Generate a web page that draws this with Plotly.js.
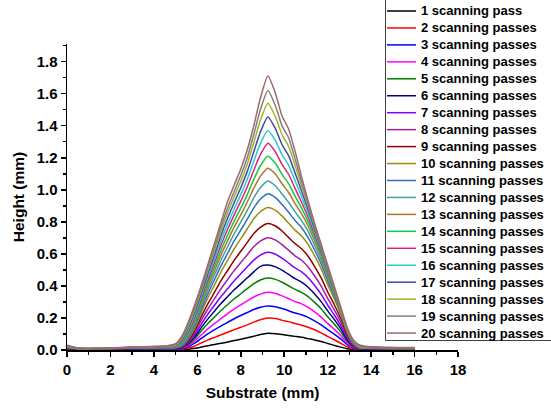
<!DOCTYPE html>
<html>
<head>
<meta charset="utf-8">
<script src="https://cdn.plot.ly/plotly-3.0.1.min.js"></script>
<style>html,body{margin:0;padding:0;background:#fff;}#chart{width:551px;height:412px;}</style>
</head>
<body>
<div id="chart"></div>
<script>
// Substrate position (mm), shared by all series
const substrate = [0, 0.5, 1, 2, 3, 4, 4.6, 5.0, 5.3, 5.6, 5.9, 6.2, 6.5, 6.8, 7.1, 7.4, 7.7, 8.0, 8.3, 8.6, 8.9, 9.25, 9.6, 9.9, 10.2, 10.5, 10.8, 11.1, 11.4, 11.7, 12.0, 12.3, 12.6, 12.9, 13.2, 13.5, 14, 15, 16];

// Height (mm) for each number of scanning passes
const pass1  = [0.004,0.002,0.002,0.002,0.003,0.003,0.003, 0.003,0.003,0.005,0.011,0.019,0.027,0.035,0.042,0.050,0.059,0.067,0.076,0.086,0.097,0.105,0.102,0.097,0.091,0.085,0.079,0.071,0.063,0.053,0.041,0.029,0.018,0.008,0.003, 0.002,0.002,0.002,0.002];
const pass2  = [0.006,0.003,0.003,0.003,0.004,0.004,0.004, 0.004,0.005,0.013,0.026,0.045,0.063,0.079,0.095,0.111,0.127,0.142,0.157,0.174,0.189,0.200,0.197,0.185,0.177,0.165,0.155,0.142,0.126,0.107,0.085,0.064,0.042,0.020,0.007, 0.003,0.003,0.003,0.003];
const pass3  = [0.008,0.010,0.004,0.004,0.005,0.005,0.005, 0.006,0.008,0.022,0.044,0.074,0.102,0.127,0.151,0.173,0.195,0.215,0.234,0.253,0.267,0.275,0.270,0.259,0.245,0.231,0.220,0.204,0.182,0.157,0.127,0.099,0.069,0.033,0.011, 0.005,0.004,0.003,0.003];
const pass4  = [0.008,0.004,0.004,0.005,0.006,0.007,0.007, 0.008,0.011,0.029,0.058,0.097,0.133,0.166,0.198,0.227,0.256,0.281,0.306,0.331,0.349,0.360,0.353,0.338,0.320,0.302,0.288,0.266,0.238,0.205,0.166,0.130,0.090,0.043,0.014, 0.006,0.005,0.004,0.004];
const pass5  = [0.010,0.005,0.005,0.006,0.008,0.008,0.008, 0.009,0.014,0.036,0.072,0.122,0.167,0.207,0.248,0.284,0.320,0.351,0.383,0.414,0.437,0.450,0.441,0.423,0.401,0.378,0.360,0.333,0.297,0.257,0.207,0.162,0.113,0.054,0.018, 0.007,0.006,0.005,0.005];
const pass6  = [0.010,0.006,0.005,0.006,0.008,0.009,0.009, 0.010,0.016,0.042,0.085,0.143,0.196,0.244,0.292,0.334,0.376,0.413,0.451,0.488,0.522,0.530,0.519,0.498,0.472,0.445,0.424,0.392,0.350,0.302,0.244,0.191,0.133,0.064,0.021, 0.008,0.007,0.006,0.005];
const pass7  = [0.012,0.006,0.006,0.007,0.009,0.010,0.010, 0.011,0.018,0.049,0.098,0.165,0.226,0.281,0.336,0.384,0.433,0.476,0.519,0.561,0.592,0.610,0.598,0.573,0.543,0.512,0.488,0.451,0.403,0.348,0.281,0.220,0.153,0.073,0.024, 0.009,0.008,0.006,0.006];
const pass8  = [0.012,0.007,0.006,0.008,0.010,0.011,0.011, 0.012,0.021,0.056,0.112,0.189,0.259,0.322,0.385,0.441,0.497,0.546,0.595,0.644,0.679,0.700,0.686,0.658,0.623,0.588,0.560,0.518,0.462,0.399,0.322,0.252,0.175,0.084,0.028, 0.010,0.009,0.007,0.007];
const pass9  = [0.014,0.007,0.007,0.008,0.011,0.012,0.012, 0.013,0.024,0.063,0.126,0.213,0.292,0.363,0.435,0.498,0.561,0.616,0.672,0.727,0.766,0.790,0.774,0.743,0.703,0.664,0.632,0.585,0.521,0.450,0.363,0.284,0.198,0.095,0.032, 0.011,0.010,0.008,0.007];
const pass10 = [0.015,0.008,0.007,0.009,0.012,0.013,0.013, 0.014,0.027,0.071,0.142,0.240,0.329,0.409,0.490,0.561,0.632,0.694,0.757,0.819,0.863,0.890,0.872,0.837,0.792,0.748,0.712,0.659,0.587,0.507,0.409,0.320,0.223,0.107,0.036, 0.012,0.011,0.009,0.008];
const pass11 = [0.016,0.008,0.007,0.009,0.012,0.014,0.014, 0.015,0.031,0.080,0.157,0.260,0.355,0.442,0.528,0.605,0.682,0.749,0.817,0.887,0.941,0.975,0.951,0.908,0.860,0.808,0.763,0.702,0.624,0.537,0.433,0.337,0.233,0.112,0.038, 0.013,0.012,0.009,0.009];
const pass12 = [0.018,0.009,0.008,0.010,0.013,0.015,0.016, 0.017,0.037,0.090,0.171,0.279,0.379,0.471,0.563,0.646,0.726,0.798,0.871,0.950,1.013,1.055,1.024,0.974,0.922,0.862,0.808,0.740,0.654,0.561,0.452,0.350,0.241,0.116,0.040, 0.014,0.013,0.010,0.010];
const pass13 = [0.019,0.009,0.008,0.010,0.014,0.016,0.017, 0.018,0.042,0.099,0.185,0.296,0.402,0.498,0.597,0.684,0.768,0.844,0.924,1.010,1.084,1.135,1.097,1.038,0.983,0.914,0.850,0.774,0.681,0.582,0.468,0.361,0.246,0.119,0.042, 0.015,0.014,0.011,0.010];
const pass14 = [0.021,0.010,0.008,0.010,0.014,0.017,0.018, 0.020,0.047,0.109,0.198,0.312,0.422,0.523,0.627,0.719,0.806,0.886,0.970,1.065,1.150,1.210,1.164,1.096,1.038,0.961,0.886,0.801,0.702,0.598,0.479,0.368,0.249,0.121,0.044, 0.017,0.015,0.012,0.011];
const pass15 = [0.022,0.010,0.009,0.011,0.015,0.018,0.020, 0.022,0.054,0.119,0.213,0.329,0.442,0.548,0.658,0.755,0.845,0.929,1.019,1.122,1.219,1.290,1.235,1.158,1.097,1.009,0.922,0.829,0.722,0.613,0.490,0.374,0.252,0.123,0.045, 0.018,0.016,0.012,0.012];
const pass16 = [0.024,0.010,0.009,0.011,0.016,0.019,0.021, 0.024,0.060,0.130,0.227,0.345,0.463,0.573,0.688,0.789,0.882,0.970,1.066,1.178,1.288,1.370,1.306,1.218,1.154,1.056,0.956,0.854,0.740,0.625,0.499,0.378,0.252,0.123,0.047, 0.019,0.016,0.013,0.012];
const pass17 = [0.025,0.011,0.009,0.011,0.016,0.020,0.022, 0.028,0.067,0.142,0.243,0.362,0.483,0.598,0.719,0.825,0.921,1.013,1.115,1.237,1.360,1.455,1.380,1.281,1.213,1.105,0.991,0.878,0.757,0.636,0.505,0.378,0.248,0.121,0.047, 0.021,0.017,0.013,0.013];
const pass18 = [0.027,0.011,0.010,0.012,0.017,0.021,0.024, 0.031,0.075,0.154,0.259,0.379,0.503,0.622,0.748,0.859,0.958,1.053,1.161,1.294,1.432,1.540,1.454,1.343,1.272,1.152,1.023,0.899,0.770,0.644,0.511,0.382,0.249,0.123,0.049, 0.022,0.018,0.014,0.014];
const pass19 = [0.028,0.012,0.010,0.012,0.017,0.022,0.025, 0.035,0.082,0.166,0.274,0.394,0.521,0.643,0.774,0.889,0.990,1.089,1.202,1.345,1.499,1.620,1.522,1.399,1.325,1.193,1.048,0.914,0.778,0.646,0.515,0.385,0.255,0.128,0.052, 0.024,0.019,0.015,0.014];
const pass20 = [0.030,0.012,0.010,0.012,0.018,0.022,0.026, 0.040,0.090,0.180,0.290,0.410,0.540,0.670,0.800,0.930,1.030,1.130,1.250,1.400,1.570,1.710,1.600,1.460,1.380,1.240,1.080,0.930,0.790,0.660,0.530,0.400,0.270,0.140,0.060, 0.030,0.020,0.015,0.015];

const seriesValues = [pass1, pass2, pass3, pass4, pass5, pass6, pass7, pass8, pass9, pass10,
                      pass11, pass12, pass13, pass14, pass15, pass16, pass17, pass18, pass19, pass20];

const seriesNames = ['1 scanning pass', '2 scanning passes', '3 scanning passes', '4 scanning passes',
  '5 scanning passes', '6 scanning passes', '7 scanning passes', '8 scanning passes', '9 scanning passes',
  '10 scanning passes', '11 scanning passes', '12 scanning passes', '13 scanning passes', '14 scanning passes',
  '15 scanning passes', '16 scanning passes', '17 scanning passes', '18 scanning passes', '19 scanning passes',
  '20 scanning passes'];

const seriesColors = ['#000000', '#FF0000', '#0000FF', '#FF00FF', '#008000', '#000080', '#8000FF', '#A020A0',
  '#900000', '#9A8C10', '#2E6FC0', '#3FA0A8', '#B0752A', '#14C846', '#E0207A', '#28C8D8', '#3C4AA8',
  '#A0B428', '#808080', '#A06868'];

const xTicks = [0, 2, 4, 6, 8, 10, 12, 14, 16, 18];
const yTicks = [0.0, 0.2, 0.4, 0.6, 0.8, 1.0, 1.2, 1.4, 1.6, 1.8];

const FONT = 'Liberation Sans, Arial, Helvetica, sans-serif';

const traces = seriesValues.map((vals, i) => ({
  type: 'scatter', mode: 'lines', x: substrate, y: vals, name: seriesNames[i],
  line: {color: seriesColors[i], width: 1.5, shape: 'spline', smoothing: 0.6},
  showlegend: false, hoverinfo: 'skip'
}));

// geometry of the plot area (pixels)
const W = 551, H = 412, ML = 67, MR = 93, MT = 44, MB = 62;
const PW = W - ML - MR, PH = H - MT - MB;
const px2x = p => (p - ML) / PW;
const px2y = p => (H - MB - p) / PH;

// hand-built legend (box, line samples, labels)
const shapes = [{
  type: 'rect', xref: 'paper', yref: 'paper', layer: 'above',
  x0: px2x(385.5), x1: px2x(553), y0: px2y(340.5), y1: px2y(-2),
  line: {color: '#404040', width: 1}, fillcolor: '#ffffff'
}];
const annotations = [];
const rowTop = 11, rowStep = 16.95;
seriesNames.forEach((nm, i) => {
  const yy = rowTop + rowStep * i;
  shapes.push({type: 'line', xref: 'paper', yref: 'paper', layer: 'above',
    x0: px2x(387), x1: px2x(416), y0: px2y(yy), y1: px2y(yy),
    line: {color: seriesColors[i], width: 1.5}});
  annotations.push({xref: 'paper', yref: 'paper', x: px2x(419), y: px2y(yy),
    xanchor: 'left', yanchor: 'middle', showarrow: false, text: nm,
    font: {family: FONT, size: 13, color: '#000', weight: 'bold'}});
});

const axisCommon = {
  showgrid: false, zeroline: false, showline: true, linecolor: '#000', linewidth: 1.5,
  ticks: 'outside', ticklen: 5, tickwidth: 1.5, tickcolor: '#000', mirror: false,
  tickfont: {family: FONT, size: 15, color: '#000', weight: 'bold'}
};

const layout = {
  width: W, height: H,
  margin: {l: ML, r: MR, t: MT, b: MB, pad: 0},
  paper_bgcolor: '#fff', plot_bgcolor: '#fff',
  showlegend: false,
  xaxis: Object.assign({}, axisCommon, {
    range: [0, 18], tickvals: xTicks, ticktext: xTicks.map(String),
    minor: {dtick: 1, tick0: 0, ticks: 'outside', ticklen: 3, tickwidth: 1.5, tickcolor: '#000'},
    title: {text: 'Substrate (mm)', standoff: 10, font: {family: FONT, size: 15.5, color: '#000', weight: 'bold'}}
  }),
  yaxis: Object.assign({}, axisCommon, {
    range: [0, 1.91], tickvals: yTicks, ticktext: yTicks.map(v => v.toFixed(1)),
    minor: {dtick: 0.1, tick0: 0, ticks: 'outside', ticklen: 3, tickwidth: 1.5, tickcolor: '#000'},
    title: {text: 'Height (mm)', standoff: 8, font: {family: FONT, size: 15.5, color: '#000', weight: 'bold'}}
  }),
  shapes: shapes,
  annotations: annotations
};

Plotly.newPlot('chart', traces, layout, {staticPlot: true, displayModeBar: false});
</script>
</body>
</html>
